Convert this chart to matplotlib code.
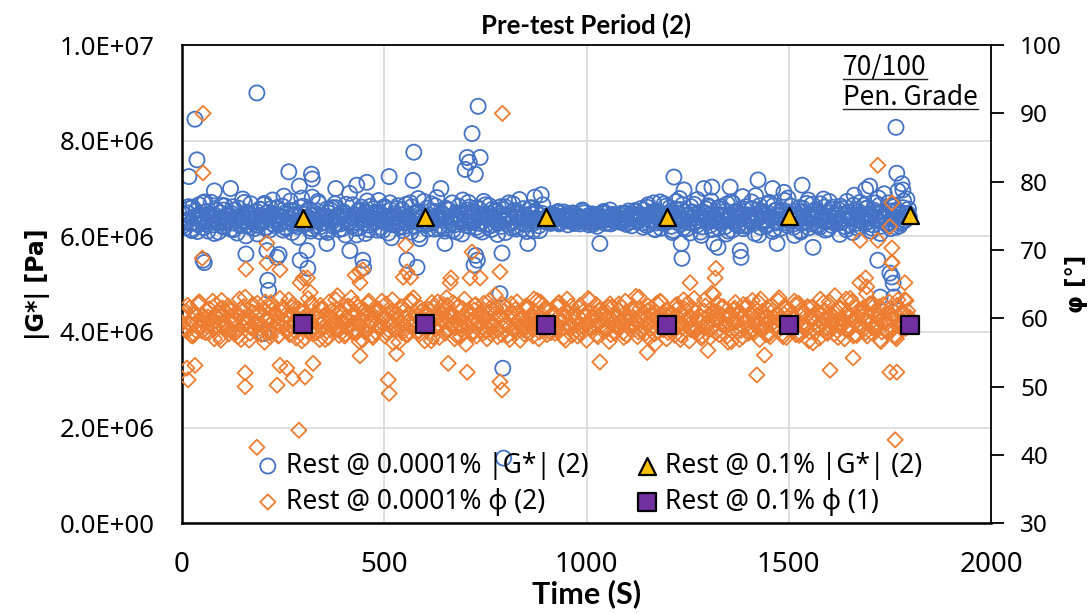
#!/usr/bin/env python3
"""
Pre-test period (2): |G*| and phase angle at rest, 70/100 pen. grade binder
"""

# %% load libraries
import numpy as np
import matplotlib
matplotlib.use('Agg')
import matplotlib.pyplot as plt
from matplotlib.ticker import FuncFormatter, MultipleLocator
from matplotlib.lines import Line2D


# %% data

# rest @ 0.0001 % strain, readings every 2 s, split in three interleaved
# runs (start 0 s, 2 s, 4 s; 6 s apart within each run)
t_step = 6
t_offsets = [0, 2, 4]
# --+ |G*| in 1e6 Pa
g_band_a = [
    6.21, 6.45, 6.33, 6.58, 6.12, 6.40, 6.27, 6.66, 6.36, 6.18,
    6.52, 6.30, 6.71, 6.24, 6.43, 6.09, 6.38, 6.55, 6.29, 6.47,
    6.15, 6.62, 6.34, 6.41, 6.22, 6.78, 6.31, 6.50, 6.19, 6.44,
    6.36, 6.05, 6.57, 6.28, 6.69, 6.39, 6.13, 6.48, 6.32, 6.60,
    6.25, 6.42, 6.84, 6.17, 6.37, 6.54, 6.23, 6.46, 5.98, 6.35,
    6.63, 6.29, 6.40, 6.11, 6.51, 6.34, 6.73, 6.20, 6.44, 6.38,
    6.08, 6.56, 6.31, 6.68, 6.26, 6.42, 6.16, 6.49, 6.35, 6.90,
    6.22, 6.45, 6.03, 6.39, 6.61, 6.28, 6.50, 6.14, 6.37, 6.58,
    6.30, 6.75, 6.19, 6.43, 6.33, 6.07, 6.55, 6.41, 6.24, 6.64,
    6.36, 6.12, 6.47, 6.29, 6.70, 6.38, 6.21, 6.52, 5.95, 6.44,
    6.32, 6.59, 6.26, 6.40, 6.15, 6.81, 6.35, 6.48, 6.18, 6.42,
    6.55, 6.27, 6.39, 6.09, 6.63, 6.34, 6.46, 6.23, 6.71, 6.37,
    6.29, 6.50, 6.13, 6.44, 6.31, 6.66, 6.20, 6.41, 6.57, 6.33,
    6.04, 6.48, 6.36, 6.62, 6.25, 6.43, 6.17, 6.54, 6.38, 6.77,
    6.28, 6.45, 6.10, 6.39, 6.60, 6.32, 6.49, 6.22, 6.87, 6.35,
    6.33, 6.41, 6.27, 6.46, 6.36, 6.52, 6.30, 6.39, 6.44, 6.24,
    6.38, 6.49, 6.32, 6.43, 6.26, 6.55, 6.35, 6.40, 6.29, 6.47,
    6.36, 6.21, 6.44, 6.33, 6.50, 6.38, 6.28, 6.45, 6.34, 6.42,
    6.30, 6.48, 6.37, 6.25, 6.53, 6.40, 6.31, 6.46, 6.35, 6.58,
    6.19, 6.44, 6.66, 6.32, 6.51, 6.14, 6.40, 6.72, 6.27, 6.47,
    6.36, 6.60, 6.08, 6.43, 6.29, 6.79, 6.34, 6.52, 6.16, 6.45,
    6.38, 6.67, 6.23, 6.49, 6.02, 6.41, 6.57, 6.30, 6.74, 6.35,
    6.46, 6.18, 6.62, 6.33, 6.53, 6.11, 6.42, 6.69, 6.26, 6.50,
    6.37, 6.83, 6.21, 6.45, 6.31, 6.58, 6.06, 6.40, 6.64, 6.34,
    6.48, 6.25, 6.71, 6.39, 6.15, 6.55, 6.32, 6.44, 6.92, 6.28,
    6.41, 6.63, 6.19, 6.47, 6.36, 6.09, 6.52, 6.30, 6.76, 6.43,
    6.35, 6.56, 6.22, 6.68, 6.40, 6.13, 6.49, 6.33, 6.61, 6.27,
    6.45, 6.04, 6.58, 6.37, 6.73, 6.24, 6.42, 6.86, 6.18, 6.51,
    6.32, 6.65, 6.29, 6.47, 6.11, 6.55, 6.38, 6.80, 6.21, 6.44,
    6.36, 6.70, 6.16, 6.53, 6.41, 6.95, 6.27, 6.60, 6.34, 6.48,
]
g_band_b = [
    6.34, 6.18, 6.49, 6.27, 6.61, 6.39, 6.10, 6.46, 6.30, 6.72,
    6.25, 6.43, 6.37, 6.06, 6.54, 6.31, 6.65, 6.20, 6.42, 6.35,
    6.48, 6.14, 6.39, 6.59, 6.26, 6.45, 6.01, 6.37, 6.68, 6.29,
    6.41, 6.23, 6.56, 6.33, 6.17, 6.50, 6.40, 6.76, 6.22, 6.44,
    6.30, 6.63, 6.19, 6.47, 6.36, 6.08, 6.53, 6.28, 6.42, 6.80,
    6.24, 6.38, 6.57, 6.16, 6.45, 6.32, 6.69, 6.27, 6.40, 6.12,
    6.49, 6.35, 6.21, 6.60, 6.38, 6.26, 6.52, 6.03, 6.43, 6.31,
    6.66, 6.29, 6.44, 6.18, 6.55, 6.36, 6.74, 6.23, 6.40, 6.47,
    6.13, 6.51, 6.34, 6.62, 6.27, 6.42, 5.97, 6.39, 6.58, 6.30,
    6.45, 6.20, 6.67, 6.35, 6.09, 6.48, 6.32, 6.79, 6.26, 6.41,
    6.37, 6.15, 6.53, 6.29, 6.64, 6.40, 6.22, 6.46, 6.11, 6.56,
    6.33, 6.70, 6.24, 6.43, 6.36, 6.05, 6.50, 6.28, 6.61, 6.38,
    6.42, 6.19, 6.57, 6.31, 6.73, 6.25, 6.47, 6.14, 6.39, 6.54,
    6.27, 6.62, 6.35, 6.08, 6.45, 6.30, 6.68, 6.21, 6.51, 6.40,
    6.16, 6.44, 6.33, 6.59, 6.26, 6.82, 6.37, 6.12, 6.48, 6.31,
    6.40, 6.29, 6.47, 6.35, 6.43, 6.26, 6.38, 6.51, 6.32, 6.44,
    6.34, 6.46, 6.28, 6.41, 6.37, 6.53, 6.30, 6.43, 6.36, 6.25,
    6.45, 6.33, 6.40, 6.48, 6.27, 6.39, 6.55, 6.34, 6.42, 6.31,
    6.38, 6.29, 6.47, 6.36, 6.44, 6.22, 6.40, 6.52, 6.33, 6.41,
    6.55, 6.23, 6.43, 6.36, 6.70, 6.28, 6.49, 6.17, 6.41, 6.63,
    6.30, 6.46, 6.12, 6.57, 6.38, 6.25, 6.66, 6.33, 6.44, 6.07,
    6.51, 6.29, 6.77, 6.40, 6.20, 6.48, 6.35, 6.61, 6.14, 6.42,
    6.36, 6.58, 6.27, 6.45, 6.05, 6.39, 6.72, 6.31, 6.53, 6.22,
    6.47, 6.16, 6.62, 6.34, 6.43, 6.26, 6.85, 6.37, 6.19, 6.50,
    6.32, 6.67, 6.40, 6.10, 6.54, 6.29, 6.45, 6.36, 6.75, 6.23,
    6.49, 6.33, 6.02, 6.44, 6.60, 6.27, 6.41, 6.69, 6.18, 6.38,
    6.52, 6.24, 6.46, 6.35, 6.78, 6.30, 6.15, 6.57, 6.39, 6.43,
    6.28, 6.63, 6.37, 6.20, 6.50, 6.41, 6.08, 6.55, 6.34, 6.71,
    6.44, 6.26, 6.59, 6.38, 6.17, 6.48, 6.32, 6.65, 6.40, 6.89,
    6.25, 6.53, 6.36, 6.62, 6.19, 6.46, 6.31, 6.74, 6.40, 6.57,
]
g_band_c = [
    6.47, 6.29, 6.62, 6.15, 6.38, 6.53, 6.24, 6.41, 6.70, 6.32,
    6.11, 6.44, 6.36, 6.58, 6.27, 6.49, 6.20, 6.64, 6.35, 6.42,
    6.28, 6.55, 6.07, 6.40, 6.33, 6.71, 6.23, 6.46, 6.37, 6.16,
    6.52, 6.30, 6.44, 6.66, 6.19, 6.39, 6.58, 6.26, 6.45, 6.34,
    6.40, 6.13, 6.50, 6.31, 6.74, 6.28, 6.43, 6.20, 6.61, 6.37,
    6.46, 6.27, 6.35, 6.82, 6.22, 6.53, 6.10, 6.41, 6.30, 6.57,
    6.33, 6.60, 6.25, 6.43, 6.14, 6.48, 6.36, 6.67, 6.29, 6.40,
    6.39, 6.17, 6.54, 6.32, 6.45, 6.06, 6.42, 6.63, 6.27, 6.50,
    6.44, 6.35, 6.12, 6.59, 6.38, 6.70, 6.24, 6.47, 6.31, 6.19,
    6.56, 6.28, 6.41, 6.35, 6.62, 6.21, 6.49, 6.04, 6.38, 6.73,
    6.26, 6.45, 6.68, 6.30, 6.52, 6.17, 6.40, 6.33, 6.59, 6.24,
    6.41, 6.13, 6.48, 6.37, 6.29, 6.76, 6.32, 6.55, 6.20, 6.44,
    6.35, 6.60, 6.27, 6.09, 6.46, 6.39, 6.64, 6.23, 6.51, 6.30,
    6.43, 6.21, 6.56, 6.34, 6.70, 6.28, 6.41, 6.15, 6.49, 6.36,
    6.58, 6.25, 6.39, 6.47, 6.11, 6.53, 6.32, 6.44, 6.66, 6.38,
    6.36, 6.45, 6.31, 6.39, 6.50, 6.28, 6.42, 6.35, 6.47, 6.33,
    6.41, 6.27, 6.44, 6.38, 6.32, 6.49, 6.36, 6.24, 6.45, 6.40,
    6.30, 6.43, 6.37, 6.52, 6.34, 6.41, 6.26, 6.46, 6.39, 6.35,
    6.44, 6.32, 6.48, 6.29, 6.40, 6.37, 6.54, 6.31, 6.43, 6.28,
    6.37, 6.61, 6.25, 6.46, 6.15, 6.52, 6.33, 6.42, 6.68, 6.30,
    6.49, 6.21, 6.40, 6.73, 6.35, 6.56, 6.18, 6.44, 6.29, 6.62,
    6.26, 6.45, 6.34, 6.09, 6.51, 6.38, 6.64, 6.23, 6.47, 6.32,
    6.59, 6.30, 6.42, 6.20, 6.68, 6.36, 6.13, 6.49, 6.40, 6.27,
    6.44, 6.57, 6.24, 6.38, 6.72, 6.31, 6.46, 6.03, 6.53, 6.35,
    6.21, 6.48, 6.39, 6.64, 6.28, 6.43, 6.17, 6.55, 6.34, 6.80,
    6.37, 6.25, 6.52, 6.40, 6.12, 6.59, 6.32, 6.45, 6.26, 6.67,
    6.30, 6.49, 6.19, 6.41, 6.61, 6.35, 6.73, 6.23, 6.46, 6.38,
    6.55, 6.29, 6.43, 6.14, 6.50, 6.36, 6.65, 6.27, 6.44, 6.20,
    6.39, 6.58, 6.31, 6.47, 6.24, 6.70, 6.35, 6.06, 6.52, 6.42,
    6.28, 6.46, 6.63, 6.37, 6.55, 6.22, 6.49, 6.33, 6.78, 6.41,
]
# --+ phase angle in degrees
phi_band_a = [
    59.2, 60.8, 58.1, 61.5, 59.9, 57.6, 60.3, 62.4, 58.7, 59.5,
    61.1, 57.9, 60.0, 58.4, 62.0, 59.3, 56.8, 60.6, 59.0, 61.8,
    58.2, 60.4, 59.7, 57.3, 61.3, 58.9, 63.1, 59.4, 57.8, 60.9,
    59.1, 62.2, 58.5, 60.2, 56.5, 59.8, 61.6, 58.0, 60.7, 59.3,
    57.5, 61.0, 59.6, 58.3, 62.7, 59.0, 60.5, 57.1, 61.4, 58.8,
    60.1, 58.6, 62.9, 59.4, 57.7, 60.8, 58.2, 61.9, 59.7, 56.9,
    60.3, 58.9, 61.2, 59.1, 63.3, 58.4, 60.6, 57.4, 59.8, 61.7,
    58.0, 60.9, 59.3, 56.6, 61.5, 59.6, 58.1, 62.5, 59.2, 60.4,
    57.9, 61.1, 58.7, 60.0, 62.1, 58.3, 59.5, 56.4, 60.7, 59.9,
    61.3, 58.5, 60.2, 57.6, 62.6, 59.1, 60.8, 58.0, 61.6, 59.4,
    56.7, 60.5, 59.0, 62.3, 58.6, 60.1, 57.2, 61.0, 59.7, 63.0,
    58.4, 60.6, 59.2, 57.5, 61.8, 58.9, 60.3, 56.2, 61.2, 59.6,
    58.1, 62.0, 59.4, 60.9, 57.8, 60.2, 58.7, 61.5, 59.0, 63.4,
    57.3, 60.4, 58.8, 61.7, 59.3, 56.9, 60.7, 58.2, 62.4, 59.8,
    60.0, 57.7, 61.3, 59.1, 58.5, 62.8, 59.6, 57.0, 60.6, 58.9,
    61.4, 59.2, 57.9, 60.8, 58.3, 62.2, 59.5, 60.1, 56.8, 61.0,
    58.6, 60.3, 59.9, 57.4, 61.9, 58.8, 60.5, 59.3, 62.7, 58.1,
    60.7, 57.6, 61.1, 59.0, 58.4, 60.9, 56.6, 61.6, 59.4, 58.7,
    62.1, 59.7, 57.2, 60.4, 58.9, 61.3, 59.1, 63.2, 58.0, 60.2,
    59.5, 57.8, 61.8, 58.5, 60.6, 56.3, 60.0, 62.5, 58.8, 59.9,
    61.2, 58.2, 60.7, 57.5, 62.0, 59.3, 58.6, 61.4, 59.8, 56.7,
    60.1, 62.9, 58.3, 59.6, 57.1, 61.1, 59.0, 60.5, 58.4, 63.5,
    57.9, 60.8, 59.2, 61.7, 58.7, 56.5, 60.3, 59.4, 62.3, 58.1,
    60.9, 57.3, 61.5, 59.7, 58.0, 62.6, 59.1, 60.4, 56.9, 61.0,
    58.5, 60.2, 57.7, 61.9, 59.5, 58.8, 63.0, 59.3, 60.6, 57.2,
    61.3, 58.9, 60.0, 57.6, 62.2, 59.0, 60.7, 58.3, 61.6, 59.8,
    56.4, 60.5, 58.6, 62.8, 59.2, 61.1, 57.8, 60.1, 59.6, 63.3,
    58.2, 61.4, 59.9, 57.0, 60.8, 58.7, 62.4, 59.4, 57.5, 61.2,
    60.3, 58.4, 63.6, 59.1, 57.9, 61.8, 58.8, 60.6, 56.6, 62.0,
    59.7, 58.1, 61.5, 60.2, 57.3, 62.7, 59.3, 60.9, 58.5, 61.1,
]
phi_band_b = [
    60.5, 58.3, 61.9, 59.0, 57.4, 60.7, 59.6, 62.3, 58.1, 60.0,
    58.8, 61.4, 59.9, 57.0, 60.3, 59.2, 62.6, 58.5, 60.9, 57.7,
    61.2, 59.4, 58.0, 60.6, 56.9, 61.7, 59.1, 60.2, 58.6, 62.0,
    59.5, 57.8, 60.8, 58.9, 62.4, 59.7, 57.3, 61.3, 58.4, 60.1,
    62.9, 58.7, 60.4, 59.3, 57.6, 61.6, 58.2, 60.0, 59.8, 56.7,
    61.0, 59.4, 58.1, 62.2, 60.3, 57.9, 59.6, 61.4, 58.6, 60.7,
    57.2, 60.1, 59.0, 62.7, 58.3, 60.9, 59.5, 57.7, 61.8, 58.9,
    60.4, 62.1, 58.0, 59.7, 56.8, 61.2, 59.2, 60.6, 57.5, 61.5,
    59.3, 58.5, 62.5, 60.2, 57.9, 59.8, 61.1, 58.4, 60.8, 56.5,
    61.7, 59.1, 57.6, 60.5, 58.8, 63.0, 59.4, 58.2, 61.0, 59.9,
    58.6, 61.3, 59.6, 57.3, 60.0, 62.4, 58.9, 60.7, 57.8, 61.9,
    59.5, 60.3, 57.0, 61.6, 59.0, 58.4, 62.8, 60.1, 58.7, 59.7,
    61.2, 57.4, 60.6, 59.3, 62.2, 58.1, 60.9, 57.7, 59.8, 61.5,
    58.3, 60.4, 62.0, 59.1, 57.5, 60.8, 58.6, 61.3, 59.4, 56.8,
    60.2, 58.9, 61.7, 57.9, 60.5, 59.2, 62.6, 58.0, 60.0, 59.6,
    57.6, 61.1, 59.3, 60.7, 58.5, 62.3, 59.8, 57.2, 60.9, 58.8,
    61.8, 59.5, 58.2, 60.3, 57.7, 61.0, 59.1, 62.9, 58.6, 60.1,
    59.0, 57.3, 61.4, 59.7, 60.6, 58.4, 62.1, 59.2, 57.8, 60.4,
    58.7, 61.6, 59.9, 57.5, 60.2, 58.9, 61.2, 59.4, 63.1, 58.1,
    60.8, 59.3, 57.1, 61.5, 58.6, 60.0, 59.7, 62.4, 58.3, 60.5,
    57.9, 60.7, 59.0, 61.9, 58.8, 56.9, 60.4, 59.5, 62.2, 58.5,
    61.3, 58.0, 60.1, 59.6, 57.4, 62.7, 59.2, 60.6, 58.7, 61.0,
    59.8, 57.6, 61.7, 58.9, 60.3, 59.1, 56.6, 61.2, 59.4, 60.9,
    58.2, 62.0, 59.6, 57.8, 60.5, 58.4, 61.4, 59.0, 62.8, 58.6,
    60.2, 59.3, 57.3, 61.1, 58.9, 60.7, 59.7, 57.7, 61.8, 59.1,
    58.5, 60.0, 62.5, 59.2, 57.5, 61.3, 58.8, 60.4, 56.7, 61.6,
    59.9, 58.1, 60.8, 59.4, 62.3, 57.9, 60.2, 58.7, 61.0, 59.5,
    57.2, 61.5, 59.0, 60.6, 58.3, 62.9, 59.8, 57.6, 60.3, 58.8,
    61.2, 59.6, 57.4, 62.1, 58.6, 60.9, 59.1, 61.7, 58.0, 60.4,
    59.3, 62.4, 58.2, 60.1, 57.0, 61.4, 59.7, 58.9, 62.6, 60.0,
]
phi_band_c = [
    58.6, 61.0, 59.4, 57.5, 60.9, 58.2, 62.1, 59.7, 60.4, 57.9,
    60.2, 59.0, 62.5, 58.7, 60.7, 57.3, 61.5, 59.2, 58.4, 61.2,
    59.6, 57.7, 60.5, 62.8, 58.9, 60.1, 59.3, 56.8, 61.8, 58.5,
    60.8, 59.1, 57.6, 61.4, 59.8, 58.0, 62.3, 59.5, 60.6, 57.4,
    59.0, 61.6, 58.3, 60.3, 57.8, 62.0, 59.4, 58.8, 61.1, 59.9,
    57.1, 60.5, 59.2, 61.9, 58.6, 60.0, 56.9, 61.3, 59.6, 58.1,
    62.4, 59.8, 58.4, 60.7, 57.5, 61.0, 59.1, 60.2, 58.8, 63.0,
    59.3, 57.8, 61.7, 59.0, 60.4, 58.2, 62.2, 59.6, 57.2, 60.9,
    61.4, 58.7, 59.9, 57.4, 60.6, 59.2, 62.7, 58.5, 60.1, 59.5,
    57.9, 61.2, 59.4, 58.0, 62.5, 59.8, 60.3, 57.6, 61.0, 58.9,
    60.7, 59.1, 56.7, 61.6, 58.4, 60.2, 59.7, 62.0, 58.1, 60.5,
    59.0, 62.3, 58.6, 60.0, 57.3, 61.4, 59.3, 58.8, 60.8, 57.7,
    61.9, 59.5, 58.2, 60.4, 59.8, 57.0, 62.6, 59.1, 60.6, 58.5,
    60.1, 57.6, 61.1, 59.3, 58.7, 62.1, 59.9, 57.9, 60.9, 59.0,
    58.3, 61.8, 59.6, 60.5, 57.4, 60.0, 58.9, 62.4, 59.2, 61.3,
    59.7, 58.0, 60.6, 57.8, 61.7, 59.4, 58.6, 60.2, 62.8, 59.1,
    57.5, 60.8, 59.0, 61.5, 58.3, 60.4, 56.8, 61.0, 59.6, 58.7,
    62.0, 59.2, 60.7, 58.1, 59.9, 61.6, 57.6, 60.3, 58.9, 61.2,
    59.4, 57.9, 62.5, 59.7, 58.4, 60.1, 59.0, 57.3, 61.4, 60.0,
    58.6, 61.1, 59.3, 60.8, 57.7, 62.2, 58.8, 60.5, 59.5, 57.0,
    60.6, 59.8, 58.2, 61.3, 59.1, 57.5, 62.7, 59.4, 60.2, 58.3,
    59.0, 60.9, 57.8, 60.3, 58.7, 61.8, 59.6, 57.2, 61.0, 59.9,
    62.1, 58.5, 60.4, 59.2, 57.4, 60.7, 58.1, 61.5, 59.7, 56.9,
    60.0, 59.3, 61.9, 58.6, 60.6, 57.9, 59.8, 62.3, 58.4, 60.8,
    57.6, 61.2, 59.0, 60.2, 58.9, 62.6, 59.5, 57.3, 61.4, 59.2,
    60.5, 58.3, 62.0, 59.7, 57.8, 60.9, 59.1, 61.7, 58.0, 60.3,
    59.4, 61.0, 57.1, 60.6, 59.9, 58.6, 62.4, 59.2, 57.7, 61.1,
    58.8, 60.1, 59.5, 62.8, 58.2, 60.4, 57.4, 61.6, 59.0, 60.7,
    61.5, 57.9, 60.3, 59.3, 62.2, 58.5, 60.0, 56.8, 61.3, 59.6,
    58.1, 60.8, 59.8, 57.5, 61.9, 59.1, 60.5, 62.7, 58.7, 60.2,
]

# spikes of the 0.0001 % readings, read one by one
# --+ |G*| above the band
g_hi_t = [17, 32, 37, 80, 120, 185, 264, 290, 320, 322, 380, 432, 457,
          512, 571, 573, 640, 700, 705, 710, 717, 725, 732, 737, 1216,
          1241, 1290, 1310, 1355, 1424, 1460, 1533, 1690, 1700, 1765,
          1767, 1780, 1782]
g_hi = [7.25, 8.45, 7.60, 6.95, 7.00, 9.00, 7.35, 7.05, 7.30, 7.20, 7.00,
        7.07, 7.13, 7.25, 7.17, 7.76, 7.00, 7.40, 7.65, 7.55, 8.15, 7.30,
        8.72, 7.65, 7.24, 6.97, 7.00, 7.03, 7.03, 7.18, 7.00, 7.07, 6.98,
        7.05, 8.28, 7.32, 7.10, 6.97]
# --+ |G*| below the band
g_lo_t = [52, 55, 158, 202, 210, 212, 214, 235, 240, 292, 309, 311, 358,
          415, 447, 449, 556, 581, 650, 722, 726, 730, 786, 791, 793, 795,
          855, 1033, 1234, 1236, 1315, 1325, 1380, 1382, 1471, 1560, 1720,
          1726, 1750, 1755, 1758, 1760]
g_lo = [5.50, 5.45, 5.63, 3.97, 5.70, 5.08, 4.87, 5.56, 5.62, 5.50, 5.70,
        5.33, 5.85, 5.70, 5.50, 5.35, 5.50, 5.35, 5.85, 5.40, 5.60, 5.50,
        4.80, 5.65, 3.24, 1.36, 5.85, 5.85, 5.85, 5.54, 5.85, 5.77, 5.70,
        5.56, 5.85, 5.77, 5.50, 4.73, 5.23, 5.15, 5.02, 4.73]
# --+ phase angle above the band
p_hi_t = [50, 52, 52, 158, 210, 210, 242, 292, 300, 310, 317, 428, 440,
          440, 447, 547, 553, 556, 565, 663, 665, 712, 717, 737, 786, 792,
          1256, 1310, 1318, 1320, 1676, 1676, 1690, 1693, 1720, 1720, 1750,
          1755, 1755, 1755, 1755, 1787]
p_hi = [68.8, 90.0, 81.3, 67.2, 71.0, 68.1, 67.1, 65.2, 65.9, 65.9, 63.8,
        66.3, 65.2, 66.8, 67.1, 66.0, 70.7, 66.8, 66.0, 65.2, 65.9, 65.9,
        69.7, 65.9, 66.8, 90.0, 65.2, 63.7, 65.9, 67.3, 65.2, 71.4, 65.9,
        64.6, 82.4, 71.4, 73.4, 76.9, 70.3, 68.2, 68.1, 65.2]
# --+ phase angle below the band
p_lo_t = [12, 15, 32, 156, 156, 185, 235, 242, 259, 274, 289, 304, 324,
          440, 510, 512, 530, 658, 705, 786, 791, 1033, 1150, 1300, 1421,
          1440, 1602, 1659, 1750, 1763, 1767]
p_lo = [52.7, 51.0, 53.1, 52.0, 50.0, 41.1, 50.2, 53.1, 52.7, 51.2, 43.6,
        51.4, 53.4, 54.5, 51.0, 49.0, 54.8, 53.4, 52.1, 50.7, 49.5, 53.6,
        55.0, 55.3, 51.7, 54.6, 52.4, 54.2, 52.1, 42.2, 52.1]

# rest @ 0.1 % strain, one point every 300 s
t_high = [300, 600, 900, 1200, 1500, 1800]
g_high = [6.38, 6.40, 6.41, 6.41, 6.43, 6.44]
phi_high = [59.2, 59.2, 59.0, 59.0, 59.0, 59.0]


# %% arrange data
g_runs = [g_band_a, g_band_b, g_band_c]
p_runs = [phi_band_a, phi_band_b, phi_band_c]
t_g = np.concatenate([np.arange(len(r)) * t_step + o
                      for r, o in zip(g_runs, t_offsets)] + [g_hi_t, g_lo_t])
g_all = np.concatenate(g_runs + [g_hi, g_lo]) * 1e6
t_p = np.concatenate([np.arange(len(r)) * t_step + o
                      for r, o in zip(p_runs, t_offsets)] + [p_hi_t, p_lo_t])
p_all = np.concatenate(p_runs + [p_hi, p_lo])


# %% plot

blue = '#4472C4'
orange = '#ED7D31'
# --+ create figure
fig = plt.figure(figsize=(10.9, 6.14), dpi=100)
ax = fig.add_axes([0.167, 0.148, 0.7422, 0.7785])
ax2 = ax.twinx()
# --+ plot data
h1 = ax.scatter(t_g, g_all, s=118, marker='o', facecolors='none',
                edgecolors=blue, linewidths=1.3, zorder=2,
                label='Rest @ 0.0001% |G*| (2)')
h3 = ax.scatter(t_high, np.array(g_high) * 1e6, s=150, marker='^',
                facecolors='#FFC000', edgecolors='black', linewidths=1.6,
                zorder=3, label='Rest @ 0.1% |G*| (2)')
h2 = ax2.scatter(t_p, p_all, s=60, marker='D', facecolors='none',
                 edgecolors=orange, linewidths=1.3, zorder=2,
                 label='Rest @ 0.0001% φ (2)')
h4 = ax2.scatter(t_high, phi_high, s=160, marker='s',
                 facecolors='#7030A0', edgecolors='black', linewidths=1.6,
                 zorder=3, label='Rest @ 0.1% φ (1)')
# --+ axis properties
ax.set_xlim(0, 2000)
ax.set_ylim(0, 1e7)
ax2.set_ylim(30, 100)
ax.xaxis.set_major_locator(MultipleLocator(500))
ax.yaxis.set_major_locator(MultipleLocator(2e6))
ax2.yaxis.set_major_locator(MultipleLocator(10))
ax.yaxis.set_major_formatter(FuncFormatter(lambda v, p: '%.1E' % v))
ax.tick_params(axis='y', length=0, pad=20, labelsize=18.5)
ax.tick_params(axis='x', length=0, pad=20, labelsize=20)
ax2.tick_params(axis='y', length=9, width=1.3, direction='out', pad=12,
                labelsize=17.5)
for lbl in ax.get_yticklabels() + ax2.get_yticklabels():
    lbl.set_family(['Noto Sans', 'DejaVu Sans'])
for lbl in ax.get_xticklabels():
    lbl.set_family(['Noto Sans', 'DejaVu Sans'])
ax.set_xlabel('Time (S)', fontsize=22, fontweight='bold',
              family=['Lato', 'DejaVu Sans'], labelpad=0)
ax.set_ylabel('|G*| [Pa]', fontsize=17, fontweight='bold',
              family='DejaVu Sans', labelpad=7)
ax2.set_ylabel('φ [°]', fontsize=16.5, fontweight='bold',
               family='DejaVu Sans', labelpad=2)
ax.set_title('Pre-test Period (2)', fontsize=18.5, fontweight='bold',
             family=['Lato', 'DejaVu Sans'], pad=8)
# --+ spines
for side, w in [('left', 1.8), ('top', 1.3), ('bottom', 1.8)]:
    ax.spines[side].set_linewidth(w)
    ax.spines[side].set_color('black')
ax.spines['right'].set_visible(False)
for side in ['left', 'top', 'bottom']:
    ax2.spines[side].set_visible(False)
ax2.spines['right'].set_linewidth(1.3)
# --+ grid
ax.set_axisbelow(True)
ax.grid(True, color='#D9D9D9', lw=1.2)
# --+ legend
leg = ax2.legend(handles=[h1, h2, h3, h4], ncol=2, loc='center',
                 bbox_to_anchor=(0.501, 0.082), frameon=False,
                 prop={'family': ['Noto Sans', 'DejaVu Sans'], 'size': 19},
                 handletextpad=0.1, columnspacing=1.6, labelspacing=0.3,
                 borderaxespad=0, handlelength=1.2, scatterpoints=1)
leg.set_zorder(5)
# --+ annotation
note_font = ['Noto Sans CJK JP', 'DejaVu Sans']
n1 = ax2.text(0.817, 0.937, '70/100', transform=ax2.transAxes, fontsize=19,
              family=note_font, va='baseline', ha='left')
n2 = ax2.text(0.817, 0.874, 'Pen. Grade', transform=ax2.transAxes,
              fontsize=19, family=note_font, va='baseline', ha='left')
# --+ underline the note
fig.canvas.draw()
rend = fig.canvas.get_renderer()
inv = fig.transFigure.inverted()
for n in (n1, n2):
    bb = n.get_window_extent(rend)
    base = ax2.transAxes.transform(n.get_position())[1] - 4
    (x0, y0), (x1, y1) = inv.transform([(bb.x0, base), (bb.x1, base)])
    fig.add_artist(Line2D([x0, x1], [y0, y1], color='#222222', lw=1.0))
# --+ save plot
plt.savefig('out.png', dpi=100)
